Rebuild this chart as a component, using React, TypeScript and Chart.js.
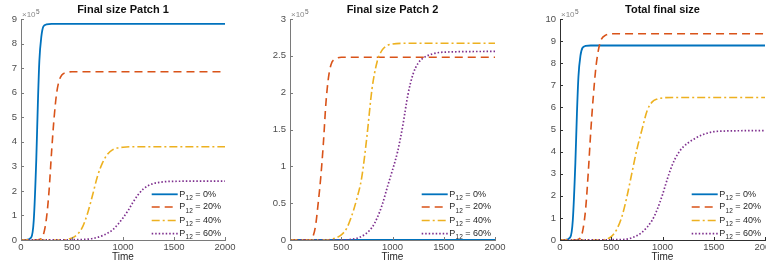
import React, { useEffect, useRef } from "react";
import { Chart, registerables } from "chart.js";

Chart.register(...registerables);

// ---------- data (values in units of 10^5) ----------
const LEGEND_VALUES = ["0%", "20%", "40%", "60%"];
const X_TICKS = [0, 500, 1000, 1500, 2000];

// Panel 1: Final size Patch 1
const p1BlueT = [0, 50, 100, 125, 150, 165, 180, 200, 220, 250, 300, 2000];
const p1BlueV = [0, 0, 0.1, 0.8, 3.3, 5.5, 7.3, 8.3, 8.7, 8.78, 8.8, 8.8];
const p1RedT = [0, 150, 200, 225, 250, 275, 300, 325, 350, 375, 400, 450, 500, 2000];
const p1RedV = [0, 0, 0.05, 0.3, 0.9, 2.0, 3.6, 5.0, 6.0, 6.5, 6.72, 6.83, 6.85, 6.85];
const p1YellowT = [0, 400, 450, 500, 550, 600, 650, 700, 750, 800, 850, 900, 950, 1000, 1100, 2000];
const p1YellowV = [0, 0, 0.02, 0.08, 0.22, 0.5, 1.05, 1.8, 2.6, 3.15, 3.5, 3.68, 3.75, 3.78, 3.8, 3.8];
const p1PurpleT = [0, 600, 700, 800, 900, 1000, 1050, 1100, 1150, 1200, 1250, 1300, 1400, 1500, 2000];
const p1PurpleV = [0, 0.02, 0.06, 0.18, 0.42, 0.9, 1.2, 1.55, 1.85, 2.08, 2.22, 2.3, 2.37, 2.39, 2.4];

// Panel 2: Final size Patch 2
const p2BlueT = [0, 2000];
const p2BlueV = [0, 0];
const p2RedT = [0, 200, 225, 250, 275, 300, 325, 350, 375, 400, 450, 500, 2000];
const p2RedV = [0, 0, 0.05, 0.2, 0.5, 0.85, 1.3, 1.85, 2.2, 2.38, 2.46, 2.48, 2.48];
const p2YellowT = [0, 350, 400, 450, 500, 550, 600, 650, 700, 750, 800, 850, 900, 950, 1000, 1100, 2000];
const p2YellowV = [0, 0, 0.01, 0.03, 0.07, 0.15, 0.32, 0.55, 0.85, 1.4, 2.05, 2.42, 2.58, 2.64, 2.66, 2.67, 2.67];
const p2PurpleT = [0, 500, 600, 700, 800, 850, 900, 950, 1000, 1050, 1100, 1150, 1200, 1250, 1300, 1400, 1500, 2000];
const p2PurpleV = [0, 0, 0.01, 0.05, 0.17, 0.3, 0.48, 0.72, 0.95, 1.2, 1.55, 1.97, 2.25, 2.4, 2.47, 2.53, 2.55, 2.56];

// Panel 3: Total final size
const p3BlueT = [0, 50, 100, 125, 150, 165, 180, 200, 220, 250, 300, 2000];
const p3BlueV = [0, 0, 0.12, 0.9, 3.5, 5.7, 7.4, 8.35, 8.7, 8.78, 8.8, 8.8];
const p3RedT = [0, 150, 200, 225, 250, 275, 300, 325, 350, 375, 400, 450, 500, 2000];
const p3RedV = [0, 0, 0.1, 0.5, 1.4, 3.0, 4.9, 6.5, 7.8, 8.6, 9.05, 9.28, 9.33, 9.33];
const p3YellowT = [0, 400, 450, 500, 550, 600, 650, 700, 750, 800, 850, 900, 950, 1000, 1100, 2000];
const p3YellowV = [0, 0, 0.03, 0.15, 0.45, 1.0, 1.9, 3.0, 4.1, 5.0, 5.85, 6.25, 6.38, 6.43, 6.45, 6.45];
const p3PurpleT = [0, 600, 700, 800, 900, 950, 1000, 1050, 1100, 1150, 1200, 1300, 1400, 1500, 1600, 2000];
const p3PurpleV = [0, 0.02, 0.1, 0.35, 0.9, 1.4, 2.05, 2.8, 3.45, 3.9, 4.2, 4.55, 4.78, 4.9, 4.93, 4.95];

// ---------- styles ----------
const COLORS = ["#0072BD", "#D95319", "#EDB120", "#7E2F8E"];
const DASHES: number[][] = [[], [8, 5], [8, 3, 2, 3], [1.5, 2]];
const WIDTHS = [1.8, 1.6, 1.6, 1.7];
const FONT = "'Liberation Sans', Arial, Helvetica, sans-serif";

const toPoints = (t: number[], v: number[]) => t.map((x, i) => ({ x, y: v[i] }));

type Panel = {
  title: string;
  left: number;
  width: number;
  yAxisWidth: number;
  yMax: number;
  yStep: number;
  axisColor: string;
  series: [number[], number[]][];
};

const PANELS: Panel[] = [
  {
    title: "Final size Patch 1",
    left: 0,
    width: 240,
    yAxisWidth: 21,
    yMax: 9,
    yStep: 1,
    axisColor: "#7a7a7a",
    series: [
      [p1BlueT, p1BlueV],
      [p1RedT, p1RedV],
      [p1YellowT, p1YellowV],
      [p1PurpleT, p1PurpleV],
    ],
  },
  {
    title: "Final size Patch 2",
    left: 255,
    width: 255,
    yAxisWidth: 35,
    yMax: 3,
    yStep: 0.5,
    axisColor: "#7a7a7a",
    series: [
      [p2BlueT, p2BlueV],
      [p2RedT, p2RedV],
      [p2YellowT, p2YellowV],
      [p2PurpleT, p2PurpleV],
    ],
  },
  {
    title: "Total final size",
    left: 510,
    width: 270,
    yAxisWidth: 50,
    yMax: 10,
    yStep: 1,
    axisColor: "#303030",
    series: [
      [p3BlueT, p3BlueV],
      [p3RedT, p3RedV],
      [p3YellowT, p3YellowV],
      [p3PurpleT, p3PurpleV],
    ],
  },
];

const fmt = (v: any) => String(Math.round(Number(v) * 100) / 100);

const decorPlugin = {
  id: "decor",
  afterDraw(chart: any, _args: any, opts: any) {
    const { ctx, chartArea, scales } = chart;
    const { left, right, bottom } = chartArea;
    ctx.save();
    // inward tick marks
    ctx.strokeStyle = opts.axisColor;
    ctx.lineWidth = 1;
    ctx.setLineDash([]);
    scales.y.ticks.forEach((t: any) => {
      const y = Math.round(scales.y.getPixelForValue(t.value)) + 0.5;
      ctx.beginPath();
      ctx.moveTo(left, y);
      ctx.lineTo(left + 3, y);
      ctx.stroke();
    });
    scales.x.ticks.forEach((t: any) => {
      const x = Math.round(scales.x.getPixelForValue(t.value)) + 0.5;
      ctx.beginPath();
      ctx.moveTo(x, bottom);
      ctx.lineTo(x, bottom - 3);
      ctx.stroke();
    });

    const cx = (left + right) / 2;
    // title
    ctx.fillStyle = "#111";
    ctx.font = `bold 11px ${FONT}`;
    ctx.textAlign = "center";
    ctx.textBaseline = "middle";
    ctx.fillText(opts.title, cx, 10);

    // x axis title
    ctx.fillStyle = "#262626";
    ctx.font = `10px ${FONT}`;
    ctx.fillText("Time", cx, 257.5);

    // exponent
    ctx.textAlign = "left";
    ctx.textBaseline = "alphabetic";
    ctx.fillStyle = "#8a8a8a";
    ctx.font = `8px ${FONT}`;
    ctx.fillText("×10", left + 1, 17.3);
    const w = ctx.measureText("×10").width;
    ctx.fillStyle = "#6a6a6a";
    ctx.font = `6.5px ${FONT}`;
    ctx.fillText("5", left + 1.5 + w, 13.5);

    // legend
    const rows = [-45.7, -33, -19.5, -6.3];
    LEGEND_VALUES.forEach((val, i) => {
      const y = bottom + rows[i];
      ctx.strokeStyle = COLORS[i];
      ctx.lineWidth = WIDTHS[i];
      ctx.setLineDash(DASHES[i]);
      ctx.beginPath();
      ctx.moveTo(right - 73.3, y);
      ctx.lineTo(right - 47.3, y);
      ctx.stroke();
      ctx.setLineDash([]);
      let x = right - 45.7;
      ctx.fillStyle = "#262626";
      ctx.textBaseline = "middle";
      ctx.font = `9px ${FONT}`;
      ctx.fillText("P", x, y);
      x += ctx.measureText("P").width;
      ctx.font = `6.5px ${FONT}`;
      ctx.fillText("12", x + 0.3, y + 4);
      x += ctx.measureText("12").width + 0.3;
      ctx.font = `9px ${FONT}`;
      ctx.fillText(` = ${val}`, x, y);
    });
    ctx.restore();
  },
};

function PanelChart({ panel }: { panel: Panel }) {
  const ref = useRef<HTMLCanvasElement | null>(null);
  useEffect(() => {
    if (!ref.current) return;
    const chart = new Chart(ref.current, {
      type: "line",
      data: {
        datasets: panel.series.map(([t, v], i) => ({
          label: `P12 = ${LEGEND_VALUES[i]}`,
          data: toPoints(t, v),
          borderColor: COLORS[i],
          borderWidth: WIDTHS[i],
          borderDash: DASHES[i],
          pointRadius: 0,
          fill: false,
          cubicInterpolationMode: "monotone",
          order: 3 - i,
        })),
      },
      options: {
        animation: false,
        responsive: false,
        devicePixelRatio: 1,
        layout: { padding: { left: 0, right: 15, top: 19, bottom: 0 } },
        plugins: {
          legend: { display: false },
          tooltip: { enabled: false },
          decor: { title: panel.title, axisColor: panel.axisColor },
        } as any,
        scales: {
          x: {
            type: "linear",
            min: 0,
            max: 2000,
            afterBuildTicks: (s: any) => {
              s.ticks = X_TICKS.map((value) => ({ value }));
            },
            afterFit: (s: any) => {
              s.height = 29;
            },
            grid: { display: false, drawTicks: false },
            border: { display: true, color: panel.axisColor, width: 1 },
            ticks: {
              padding: 2,
              color: "#4d4d4d",
              font: { family: FONT, size: 9.5 },
              maxRotation: 0,
              autoSkip: false,
              callback: fmt,
            },
          },
          y: {
            type: "linear",
            min: 0,
            max: panel.yMax,
            afterFit: (s: any) => {
              s.width = panel.yAxisWidth;
            },
            grid: { display: false, drawTicks: false },
            border: { display: true, color: panel.axisColor, width: 1 },
            ticks: {
              stepSize: panel.yStep,
              padding: 4,
              color: "#4d4d4d",
              font: { family: FONT, size: 9.5 },
              autoSkip: false,
              callback: fmt,
            },
          },
        },
      },
      plugins: [decorPlugin],
    });
    return () => chart.destroy();
  }, [panel]);
  return (
    <canvas
      ref={ref}
      width={panel.width}
      height={269}
      style={{ position: "absolute", left: panel.left, top: 0, width: panel.width, height: 269 }}
    />
  );
}

export default function App() {
  return (
    <div
      style={{
        position: "absolute",
        left: 0,
        top: 0,
        width: 766,
        height: 269,
        overflow: "hidden",
        background: "#fff",
      }}
    >
      {PANELS.map((p) => (
        <PanelChart key={p.title} panel={p} />
      ))}
    </div>
  );
}
